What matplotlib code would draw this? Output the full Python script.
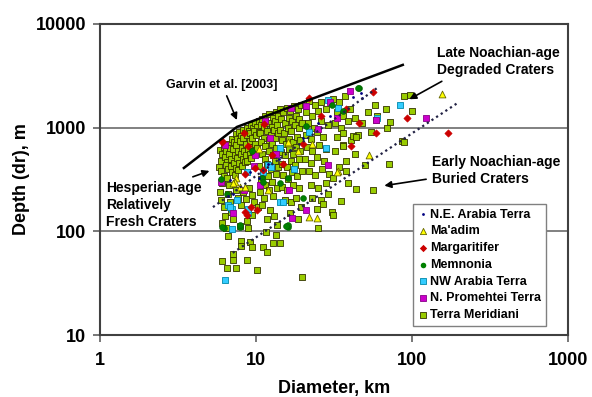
import matplotlib
matplotlib.use("Agg")
import matplotlib.pyplot as plt
from matplotlib.ticker import FixedLocator, FixedFormatter, NullLocator

plt.rcParams["font.family"] = ["Liberation Sans", "DejaVu Sans"]
plt.rcParams["font.weight"] = "bold"

# Terra Meridiani (diameter km, depth m)
meridiani_d = [
    5.9, 6.1, 6.0, 6.2, 6.4, 6.3, 6.6, 6.8, 6.7, 7.0, 7.2, 7.1, 7.4, 7.6, 7.5, 7.8, 8.0, 7.9, 8.3, 8.5,
    8.2, 8.8, 9.0, 8.7, 9.3, 9.6, 9.2, 9.9, 10.2, 9.7, 6.5, 6.9, 7.3, 7.7, 8.1, 8.6, 9.1, 9.5, 10.0, 10.4,
    5.8, 6.0, 6.2, 6.1, 6.4, 6.6, 6.5, 6.7, 6.9, 7.0, 7.2, 7.4, 7.3, 7.6, 7.8, 7.7, 8.0, 8.2, 8.1, 8.4,
    8.6, 8.5, 8.9, 9.1, 8.8, 9.4, 9.6, 9.3, 9.8, 10.1,
    5.9, 6.0, 6.2, 6.3, 6.1, 6.6, 6.8, 6.9, 7.1, 7.5, 7.7, 8.0, 8.3, 8.6, 9.0, 9.4, 9.7, 6.4, 7.9, 8.8,
    9.5, 10.3,
    8.0, 8.0, 9.2, 9.4, 11.1, 11.7, 12.8, 14.3, 6.05, 7.1, 7.1, 6.5, 7.4, 8.7, 10.1, 19.7, 11.6, 8.9, 25, 6.6,
    13.5,
    10.5, 11.0, 11.5, 12.2, 12.8, 13.4, 10.8, 11.3, 12.0, 12.6, 13.2, 13.8, 10.6, 11.2, 11.8, 12.4, 13.0, 13.6,
    10.7, 11.4, 12.1, 12.7, 13.3, 13.9, 10.9, 11.5, 12.2, 12.9, 13.5, 10.5, 11.1, 11.8, 12.5, 13.2, 13.8,
    10.8, 11.4, 12.0, 12.7, 13.4, 10.6, 11.3, 12.1, 12.9, 13.6, 11.0, 12.3, 13.0, 11.7, 13.7,
    14.2, 15.0, 15.8, 16.5, 17.5, 18.5, 19.5, 14.5, 15.3, 16.2, 17.0, 18.0, 19.0, 14.3, 15.2, 16.0, 16.8,
    17.8, 18.8, 19.8, 14.6, 15.5, 16.4, 17.3, 18.3, 19.3, 14.4, 15.4, 16.3, 17.2, 18.1, 19.2, 14.8, 15.8,
    16.8, 17.8, 18.8, 15.0, 16.1, 17.1, 18.4, 19.6, 14.7, 15.9, 17.4, 18.9, 15.4, 16.9, 18.2, 19.4, 16.5,
    18.6,
    20.5, 22, 24, 26, 21, 23, 25, 28, 21.5, 23.5, 26, 29, 20.8, 22.5, 24.5, 27, 21.2, 23, 25.5, 28,
    20.6, 22.5, 24.8, 27.5, 21.8, 24, 26.5, 29.5, 22.5, 25, 28, 23, 26, 29, 30.6, 31, 27, 24.5,
    31, 34, 37, 33, 36, 40, 32, 35, 39, 43, 48, 33, 36, 41, 45, 42, 44, 32, 36, 43, 36, 37.7, 50, 71,
    39, 44, 56, 35, 34, 31, 38,
    89, 97, 100, 68, 59, 72, 69, 87, 58, 52, 89, 60, 55,
]
meridiani_h = [
    610, 560, 480, 650, 600, 520, 700, 640, 560, 780, 720, 620, 860, 780, 680, 900, 830, 740, 950, 880,
    790, 1000, 920, 840, 1050, 980, 880, 1100, 1020, 930, 470, 500, 540, 590, 640, 690, 740, 790, 840, 900,
    420, 380, 340, 290, 440, 400, 330, 280, 430, 370, 460, 410, 350, 510, 460, 390, 560, 500, 430, 600,
    540, 470, 620, 560, 480, 650, 590, 510, 700, 640,
    240, 200, 170, 140, 120, 230, 190, 155, 130, 250, 210, 180, 240, 205, 260, 225, 190, 108, 112, 125,
    145, 170,
    81, 72, 79, 70, 70, 63, 77, 77, 52, 60, 53, 44, 44, 53, 42, 36, 98, 107, 107, 90,
    92,
    1150, 1200, 1280, 1350, 1250, 1400, 1050, 980, 1100, 1020, 1150, 1300, 880, 800, 920, 850, 950, 1060,
    720, 660, 760, 700, 800, 880, 560, 500, 600, 540, 640, 430, 370, 450, 400, 480, 420,
    320, 280, 340, 300, 360, 240, 210, 250, 220, 260, 180, 160, 140, 130, 115,
    1500, 1400, 1550, 1450, 1600, 1500, 1650, 1200, 1100, 1250, 1150, 1300, 1200, 950, 880, 1000, 920,
    1050, 980, 1100, 760, 700, 780, 720, 820, 760, 580, 540, 620, 560, 650, 600, 450, 420,
    480, 440, 500, 350, 320, 370, 340, 380, 270, 250, 280, 260, 200, 190, 210, 170, 150,
    130,
    1700, 1800, 1650, 1750, 1400, 1300, 1450, 1500, 1100, 1000, 1150, 1050, 850, 780, 900, 820, 650, 600, 680, 620,
    500, 460, 520, 480, 380, 350, 400, 360, 280, 260, 290, 210, 200, 230, 153, 145, 185, 165,
    1900, 1750, 2000, 1400, 1300, 1500, 1100, 1000, 1150, 1250, 1100, 820, 880, 760, 840, 837, 820, 600, 680, 560, 670, 473, 440, 445,
    292, 255, 250, 195, 420, 330, 380,
    2030, 2050, 1460, 1520, 1170, 1120, 1000, 750, 1650, 1400, 730, 1300, 900,
]

promethei_d = [9.7, 6.0, 10.6, 16.4, 29, 21, 7.1, 17, 21, 40, 30, 33, 59, 123, 9.9, 12.3, 16.7, 6.3, 8.4, 13.5, 25, 11.5]
promethei_h = [425, 300, 280, 250, 440, 160, 150, 135, 1630, 2260, 1750, 1250, 1180, 1250, 540, 800, 1560, 680, 250, 560, 960, 1150]

nw_arabia_d = [6.3, 7.0, 14.3, 11.9, 12.5, 6.6, 7.0, 8.9, 14.3, 28, 29, 33.6, 84, 6.8, 8.9, 14.9, 8.8, 11.1, 17.5, 60, 7.6, 22]
nw_arabia_h = [34, 105, 630, 440, 420, 180, 165, 150, 190, 630, 1860, 1540, 1640, 170, 165, 190, 370, 370, 400, 1230, 200, 900]

margaritifer_d = [6.05, 8.4, 11.2, 8.9, 8.5, 9.85, 12.6, 11.1, 8.7, 10.1, 20, 6.05, 22, 46, 59, 93, 170, 41, 56, 8.5, 9.3, 15, 26, 38]
margaritifer_h = [750, 890, 1090, 660, 360, 410, 540, 390, 145, 160, 700, 720, 1920, 1100, 890, 1230, 890, 660, 2200, 153, 170, 450, 1300, 1500]

memnonia_d = [6.2, 7.9, 16, 46, 6.5, 10.9, 16, 7.9, 16, 6.05, 15.5, 6.0, 11.1, 14.3, 21, 45, 30.6, 9.5, 20, 36]
memnonia_h = [107, 110, 110, 2400, 230, 330, 330, 115, 115, 110, 112, 320, 300, 290, 1040, 2420, 1650, 600, 210, 1450]

maadim_d = [155, 53, 33.6, 23, 16, 16, 7.5, 7.3, 7.9, 18.6, 33, 24.6, 7.1, 8.5, 22, 12, 10.5]
maadim_h = [2100, 550, 380, 700, 710, 720, 325, 300, 270, 600, 370, 135, 290, 270, 137, 250, 620]

ne_arabia_d = [9.1, 16.5, 47, 48, 42, 7.1, 6.8, 6.6, 12, 20, 25, 10.5, 14, 30]
ne_arabia_h = [370, 610, 2150, 1930, 1950, 230, 310, 220, 450, 800, 1100, 330, 500, 1300]

# trend lines
garvin_d = [3.45, 7.55, 87.5]
garvin_h = [408, 1014, 4020]
hesperian_d = [5.3, 59.7]
hesperian_h = [171, 2400]
buried_d = [7.1, 197]
buried_h = [62, 1730]

fig = plt.figure(figsize=(5.92, 3.97), dpi=100)
ax = fig.add_axes([0.169, 0.156, 0.790, 0.784])
ax.set_xscale("log")
ax.set_yscale("log")
ax.set_xlim(1, 1000)
ax.set_ylim(10, 10000)

for yv in (100, 1000):
    ax.axhline(yv, color="#808080", lw=1.4, zorder=1)

ax.scatter(meridiani_d, meridiani_h, marker="s", s=22, c="#99CC00", edgecolors="#333300",
           linewidths=0.6, zorder=2)
ax.scatter(nw_arabia_d, nw_arabia_h, marker="s", s=22, c="#33CCFF", edgecolors="#0088AA",
           linewidths=0.6, zorder=3)
ax.scatter(promethei_d, promethei_h, marker="s", s=22, c="#CC00CC", edgecolors="#880088",
           linewidths=0.6, zorder=3)
ax.scatter(margaritifer_d, margaritifer_h, marker="D", s=14, c="#CC0000", edgecolors="#CC0000",
           linewidths=0.4, zorder=3)
ax.scatter(memnonia_d, memnonia_h, marker="o", s=18, c="#008000", edgecolors="#006000",
           linewidths=0.4, zorder=3)
ax.scatter(maadim_d, maadim_h, marker="^", s=24, c="#FFFF00", edgecolors="#666600",
           linewidths=0.6, zorder=3)
ax.scatter(ne_arabia_d, ne_arabia_h, marker="o", s=4, c="#000080", linewidths=0, zorder=3)

ax.plot(garvin_d, garvin_h, color="black", lw=1.8, zorder=4)
ax.plot(hesperian_d, hesperian_h, color="#222244", lw=1.6, ls=(0, (1, 1.5)), zorder=4)
ax.plot(buried_d, buried_h, color="#222244", lw=1.6, ls=(0, (1, 1.5)), zorder=4)

arrow = dict(arrowstyle="-|>", color="black", lw=1.2, mutation_scale=10)
ax.annotate("Garvin et al. [2003]", xy=(7.67, 1117), xytext=(6.05, 2600), fontsize=9,
            ha="center", va="center", arrowprops=arrow)
ax.annotate("Late Noachian-age\nDegraded Craters", xy=(93, 1820), xytext=(145, 4330),
            fontsize=10, ha="left", va="center", linespacing=1.3,
            arrowprops=dict(arrow, relpos=(0.1, 0.0)))
ax.annotate("Early Noachian-age\nBuried Craters", xy=(64, 273), xytext=(134, 385),
            fontsize=10, ha="left", va="center", linespacing=1.3,
            arrowprops=dict(arrow, relpos=(0.0, 0.25)))
ax.annotate("Hesperian-age\nRelatively\nFresh Craters", xy=(5.23, 390), xytext=(1.09, 180),
            fontsize=10, ha="left", va="center", linespacing=1.3,
            arrowprops=dict(arrow, relpos=(0.8, 1.0)))

# legend proxies in the reference's order
handles = [
    ax.scatter([], [], marker="o", s=4, c="#000080", linewidths=0),
    ax.scatter([], [], marker="^", s=20, c="#FFFF00", edgecolors="#666600", linewidths=0.6),
    ax.scatter([], [], marker="D", s=14, c="#CC0000", linewidths=0),
    ax.scatter([], [], marker="o", s=16, c="#008000", linewidths=0),
    ax.scatter([], [], marker="s", s=18, c="#33CCFF", edgecolors="#0088AA", linewidths=0.6),
    ax.scatter([], [], marker="s", s=18, c="#CC00CC", edgecolors="#880088", linewidths=0.6),
    ax.scatter([], [], marker="s", s=18, c="#99CC00", edgecolors="#333300", linewidths=0.6),
]
labels = ["N.E. Arabia Terra", "Ma'adim", "Margaritifer", "Memnonia", "NW Arabia Terra",
          "N. Promehtei Terra", "Terra Meridiani"]
leg = ax.legend(handles, labels, loc="lower right", bbox_to_anchor=(0.953, 0.029), fontsize=9,
                frameon=True, fancybox=False, edgecolor="#808080", framealpha=1,
                handletextpad=0.1, handlelength=0.8, borderpad=0.4, labelspacing=0.38,
                borderaxespad=0)
leg.get_frame().set_linewidth(1.0)
leg.set_zorder(5)

ax.xaxis.set_major_locator(FixedLocator([1, 10, 100, 1000]))
ax.xaxis.set_major_formatter(FixedFormatter(["1", "10", "100", "1000"]))
ax.yaxis.set_major_locator(FixedLocator([10, 100, 1000, 10000]))
ax.yaxis.set_major_formatter(FixedFormatter(["10", "100", "1000", "10000"]))
ax.xaxis.set_minor_locator(NullLocator())
ax.yaxis.set_minor_locator(NullLocator())
ax.tick_params(axis="both", direction="out", length=5, width=1.2, color="#606060",
               labelsize=13)
ax.tick_params(axis="x", pad=7)
ax.tick_params(axis="y", pad=5)
for lab in ax.get_xticklabels() + ax.get_yticklabels():
    lab.set_fontweight("bold")

for sp in ax.spines.values():
    sp.set_color("#404040")
    sp.set_linewidth(1.5)

ax.set_xlabel("Diameter, km", fontsize=13, fontweight="bold", labelpad=8)
ax.set_ylabel("Depth (dr), m", fontsize=13, fontweight="bold", labelpad=4)

fig.savefig("out.png", dpi=100)
